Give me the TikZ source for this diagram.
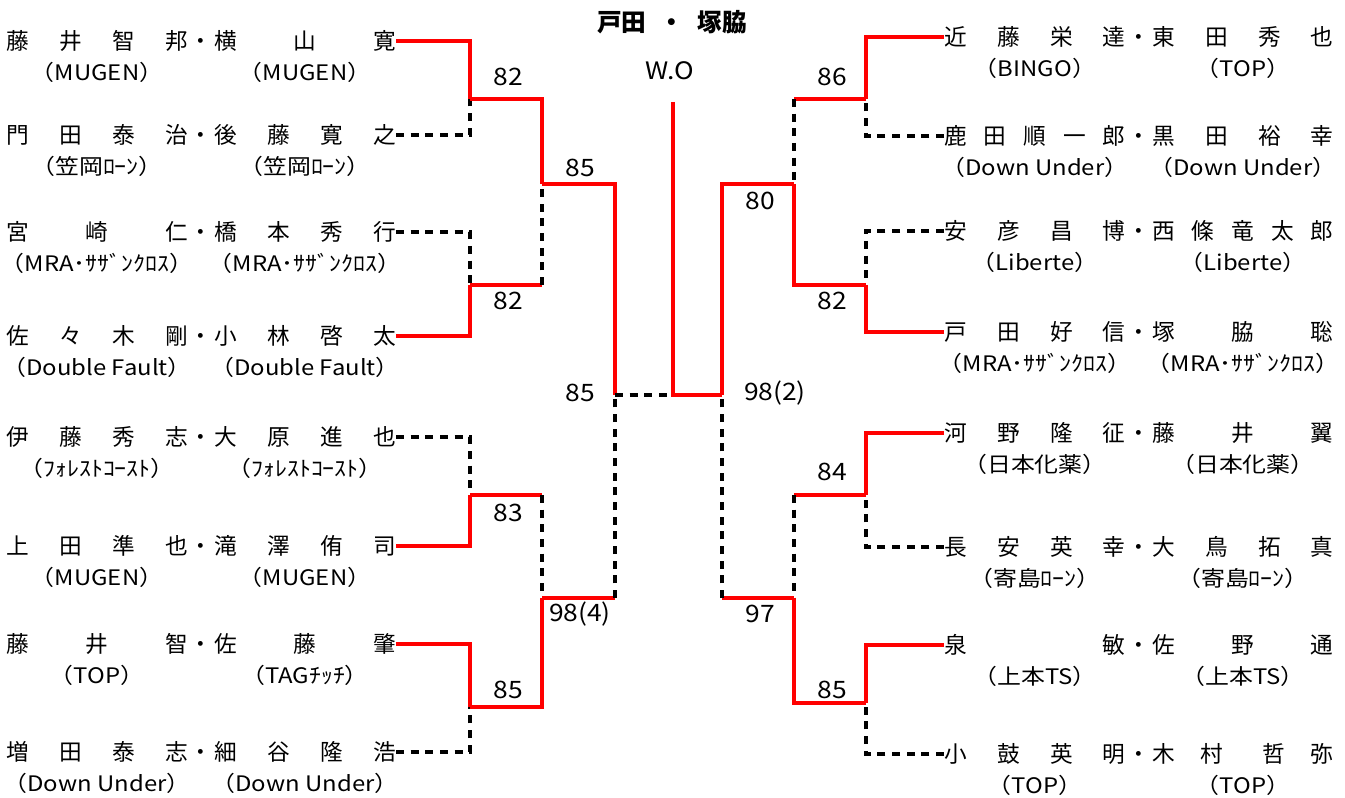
\documentclass[tikz,border=0pt]{standalone}
\usepackage{fontspec}
\setmainfont{Noto Sans CJK JP}
\newfontfamily\teamfont{Noto Sans CJK JP}[FakeStretch=1.12]
\newfontfamily\scorefont{Noto Sans CJK JP}[FakeStretch=1.1]
\usetikzlibrary{positioning}
\definecolor{winred}{RGB}{255,0,0}
\newlength\cellw
\setlength\cellw{136pt}
\newcommand\pairnames[2]{\makebox[\cellw][s]{#1}\makebox[20pt]{・}\makebox[\cellw][s]{#2}}
\newcommand\pairteams[2]{\makebox[\cellw]{#1}\makebox[20pt]{}\makebox[\cellw]{#2}}

\begin{document}
\begin{tikzpicture}[
    x=0.75pt, y=-0.75pt,
    node distance=7pt,
    names/.style={inner sep=0pt, font=\fontsize{17}{17}\selectfont, text height=15pt, text depth=2pt},
    team/.style={inner sep=0pt, font=\teamfont\fontsize{16}{16}\selectfont, text height=13.5pt, text depth=2pt},
    score/.style={inner sep=0pt, font=\scorefont\fontsize{18}{18}\selectfont},
    win/.style={draw=winred, line width=2.4pt},
    lose/.style={draw=black, line width=2.4pt, dash pattern=on 6pt off 5pt}
  ]
  \useasboundingbox (0,0) rectangle (1345,798);

  \node[font=\bfseries\fontsize{18.5}{18.5}\selectfont] (title) at (672,22) {戸田\hspace{10pt}・\hspace{10pt}塚脇};

  % left players
  \node[names, anchor=east] (ln1) at (396,41) {\pairnames{藤 井 智 邦}{横 山 寛}};
  \node[team, below=of ln1] (lt1) {\pairteams{（MUGEN）}{（MUGEN）}};
  \node[names, anchor=east] (ln2) at (396,135) {\pairnames{門 田 泰 治}{後 藤 寛 之}};
  \node[team, below=of ln2] (lt2) {\pairteams{（笠岡ﾛｰﾝ）}{（笠岡ﾛｰﾝ）}};
  \node[names, anchor=east] (ln3) at (396,232) {\pairnames{宮 崎 仁}{橋 本 秀 行}};
  \node[team, below=of ln3] (lt3) {\pairteams{（MRA･ｻｻﾞﾝｸﾛｽ）}{（MRA･ｻｻﾞﾝｸﾛｽ）}};
  \node[names, anchor=east] (ln4) at (396,336) {\pairnames{佐 々 木 剛}{小 林 啓 太}};
  \node[team, below=of ln4] (lt4) {\pairteams{（Double Fault）}{（Double Fault）}};
  \node[names, anchor=east] (ln5) at (396,437) {\pairnames{伊 藤 秀 志}{大 原 進 也}};
  \node[team, below=of ln5] (lt5) {\pairteams{（ﾌｫﾚｽﾄｺｰｽﾄ）}{（ﾌｫﾚｽﾄｺｰｽﾄ）}};
  \node[names, anchor=east] (ln6) at (396,546) {\pairnames{上 田 準 也}{滝 澤 侑 司}};
  \node[team, below=of ln6] (lt6) {\pairteams{（MUGEN）}{（MUGEN）}};
  \node[names, anchor=east] (ln7) at (396,644) {\pairnames{藤 井 智}{佐 藤 肇}};
  \node[team, below=of ln7] (lt7) {\pairteams{（TOP）}{（TAGﾁｯﾁ）}};
  \node[names, anchor=east] (ln8) at (396,752) {\pairnames{増 田 泰 志}{細 谷 隆 浩}};
  \node[team, below=of ln8] (lt8) {\pairteams{（Down Under）}{（Down Under）}};

  % right players
  \node[names, anchor=west] (rn1) at (944,37) {\pairnames{近 藤 栄 達}{東 田 秀 也}};
  \node[team, below=of rn1] (rt1) {\pairteams{（BINGO）}{（TOP）}};
  \node[names, anchor=west] (rn2) at (944,136) {\pairnames{鹿 田 順 一 郎}{黒 田 裕 幸}};
  \node[team, below=of rn2] (rt2) {\pairteams{（Down Under）}{（Down Under）}};
  \node[names, anchor=west] (rn3) at (944,231) {\pairnames{安 彦 昌 博}{西 條 竜 太 郎}};
  \node[team, below=of rn3] (rt3) {\pairteams{（Liberte）}{（Liberte）}};
  \node[names, anchor=west] (rn4) at (944,332) {\pairnames{戸 田 好 信}{塚 脇 聡}};
  \node[team, below=of rn4] (rt4) {\pairteams{（MRA･ｻｻﾞﾝｸﾛｽ）}{（MRA･ｻｻﾞﾝｸﾛｽ）}};
  \node[names, anchor=west] (rn5) at (944,433) {\pairnames{河 野 隆 征}{藤 井 翼}};
  \node[team, below=of rn5] (rt5) {\pairteams{（日本化薬）}{（日本化薬）}};
  \node[names, anchor=west] (rn6) at (944,547) {\pairnames{長 安 英 幸}{大 鳥 拓 真}};
  \node[team, below=of rn6] (rt6) {\pairteams{（寄島ﾛｰﾝ）}{（寄島ﾛｰﾝ）}};
  \node[names, anchor=west] (rn7) at (944,645) {\pairnames{泉 敏}{佐 野 通}};
  \node[team, below=of rn7] (rt7) {\pairteams{（上本TS）}{（上本TS）}};
  \node[names, anchor=west] (rn8) at (944,754) {\pairnames{小 鼓 英 明}{木 村\hspace{11pt} 哲 弥}};
  \node[team, below=of rn8] (rt8) {\pairteams{（TOP）}{（TOP）}};

  % junctions
  \coordinate (mA) at (470,99);
  \coordinate (mB) at (470,285);
  \coordinate (mC) at (470,495);
  \coordinate (mD) at (470,707);
  \coordinate (mAB) at (542,184);
  \coordinate (mCD) at (542,598);
  \coordinate (mL) at (615,395);
  \coordinate (fintop) at (673,102);
  \coordinate (fin) at (673,395);
  \coordinate (mR) at (722,395);
  \coordinate (mEF) at (794,184);
  \coordinate (mGH) at (794,598);
  \coordinate (mE) at (866,99);
  \coordinate (mF) at (866,285);
  \coordinate (mG) at (866,495);
  \coordinate (mH) at (866,703);

  % scores
  \node[score] (sA) at (508,77) {82};
  \node[score] (sB) at (508,301) {82};
  \node[score] (sC) at (508,513) {83};
  \node[score] (sD) at (508,690) {85};
  \node[score] (sAB) at (580,168) {85};
  \node[score] (sCD) at (580,614) {98(4)};
  \node[score] (sL) at (580,393) {85};
  \node[score] (wo) at (670,71) {W.O};
  \node[score] (sR) at (775,393) {98(2)};
  \node[score] (sEF) at (760,201) {80};
  \node[score] (sGH) at (760,614) {97};
  \node[score] (sE) at (832,77) {86};
  \node[score] (sF) at (832,301) {82};
  \node[score] (sG) at (832,472) {84};
  \node[score] (sH) at (832,690) {85};

  % left, first round
  \draw[win] (ln1.east) -| (mA);
  \draw[lose] (ln2.east) -| (mA);
  \draw[lose] (ln3.east) -| (mB);
  \draw[win] (ln4.east) -| (mB);
  \draw[lose] (ln5.east) -| (mC);
  \draw[win] (ln6.east) -| (mC);
  \draw[win] (ln7.east) -| (mD);
  \draw[lose] (ln8.east) -| (mD);

  % left, second round and semifinal
  \draw[win] (mA) -| (mAB);
  \draw[win] (mB) -- (mB -| mAB);
  \draw[lose] (mB -| mAB) -- (mAB);
  \draw[win] (mC) -- (mC -| mCD);
  \draw[lose] (mC -| mCD) -- (mCD);
  \draw[win] (mD) -| (mCD);
  \draw[win] (mAB) -| (mL);
  \draw[win] (mCD) -- (mCD -| mL);
  \draw[lose] (mCD -| mL) -- (mL);

  % final
  \draw[lose] (mL) -- (fin);
  \draw[win] (fintop) -- (fin) -- (mR);

  % right, semifinal and second round
  \draw[win] (mEF) -| (mR);
  \draw[win] (mGH) -- (mGH -| mR);
  \draw[lose] (mGH -| mR) -- (mR);
  \draw[win] (mE) -- (mE -| mEF);
  \draw[lose] (mE -| mEF) -- (mEF);
  \draw[win] (mF) -| (mEF);
  \draw[win] (mG) -- (mG -| mGH);
  \draw[lose] (mG -| mGH) -- (mGH);
  \draw[win] (mH) -| (mGH);

  % right, first round
  \draw[win] (rn1.west) -| (mE);
  \draw[lose] (rn2.west) -| (mE);
  \draw[lose] (rn3.west) -| (mF);
  \draw[win] (rn4.west) -| (mF);
  \draw[win] (rn5.west) -| (mG);
  \draw[lose] (rn6.west) -| (mG);
  \draw[win] (rn7.west) -| (mH);
  \draw[lose] (rn8.west) -| (mH);
\end{tikzpicture}
\end{document}
